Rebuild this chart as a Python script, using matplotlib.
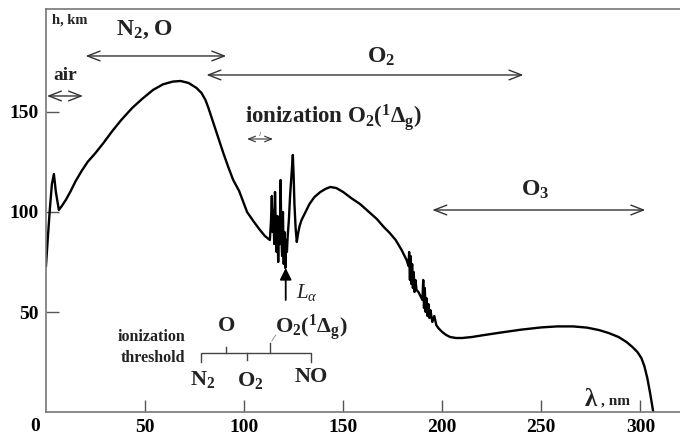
import matplotlib
matplotlib.use('Agg')
import matplotlib.pyplot as plt

plt.rcParams['font.family'] = ['Liberation Serif', 'DejaVu Serif']
plt.rcParams['mathtext.fontset'] = 'custom'
plt.rcParams['mathtext.rm'] = 'Liberation Serif:bold'
plt.rcParams['mathtext.it'] = 'Liberation Serif:italic'
plt.rcParams['mathtext.bf'] = 'Liberation Serif:bold'

# длина волны, нм / высота, км
lam = [0, 1, 2, 3, 4, 5, 6.5, 8, 10, 12.5, 15, 18, 21, 25, 29, 33.5, 38, 43.5, 48.5,
       54, 59, 64, 68, 72, 76, 78.5, 80.5, 82, 84, 86, 88, 89.5, 92, 94.5, 97.5,
       101.5, 105, 108, 110.5, 113,
       113.6, 114, 114.4, 114.8, 115.2, 115.6, 116, 116.4, 116.8, 117.2, 117.6, 118,
       118.4, 118.8, 119.2, 119.6, 120, 120.4, 120.8, 121.2, 121.6, 122, 122.6, 123.2,
       124, 124.6, 125, 125.4, 126, 126.6, 127.2, 128, 129, 131, 133, 135.5, 138.5,
       141, 143.5, 146.5, 150, 154, 158.5, 163, 167, 170.5, 173.5, 176.5, 179.5, 182,
       183, 183.3, 183.7, 184, 184.4, 184.8, 185.2, 185.6, 186, 186.5, 187, 188, 189,
       190, 190.4, 190.8, 191.2, 191.6, 192, 192.5, 193, 193.5, 194, 195, 196, 197, 198,
       200, 202, 204, 207, 210, 215, 220, 230, 240, 250, 258, 266, 273, 279, 284, 289,
       293, 296, 298.5, 300.5, 302, 303.5, 305, 306.5]
h = [73, 88, 102, 114, 119, 110, 101, 103, 106, 110.5, 115.5, 120.5, 125, 129.5, 134.5,
     140.5, 146, 152, 156.5, 161, 163.8, 165.2, 165.5, 164.5, 162, 159.5, 156, 152,
     146, 140, 134, 129.5, 122.5, 116, 110.5,
     100, 95, 91, 88, 86,
     96, 108, 90, 101, 84, 110, 92, 80, 98, 75, 95, 84, 116, 88, 78, 100, 74, 90, 72,
     86, 80, 88, 96, 108, 120, 128.5, 118, 104, 92, 85, 89, 93, 96, 100, 104, 107.5,
     110, 111.5, 112.5, 112, 110, 107, 104, 100, 96.5, 92.5, 89.5, 86, 81, 76,
     73, 80, 66, 78, 64, 74, 62, 70, 60, 66, 61, 60, 58,
     56, 66, 52, 62, 50, 57, 48, 54, 47, 51, 45, 48, 43.5, 42,
     40, 38.5, 37.5, 37, 37, 37.5, 38.3, 39.8, 41.2, 42.3, 42.8, 42.8, 42.2, 41, 39.5,
     37.5, 35, 32.5, 30, 27, 23, 17, 9, 0]

fig = plt.figure(figsize=(6.8, 4.4), dpi=100)
ax = fig.add_axes([0.0676, 0.0636, 0.9324, 0.916])

ax.plot(lam, h, color='black', linewidth=1.7, solid_joinstyle='round')

ax.set_xlim(0, 320)
ax.set_ylim(0, 201.5)
ax.set_xticks([50, 100, 150, 200, 250, 300])
ax.set_yticks([50, 100, 150])
ax.tick_params(direction='in', length=9, width=1, color='#555555',
               labelsize=14, pad=5)
for lbl in ax.get_xticklabels() + ax.get_yticklabels():
    lbl.set_fontweight('bold')
for s in ['left', 'bottom', 'top']:
    ax.spines[s].set_color('#777777')
    ax.spines[s].set_linewidth(1.2)
ax.spines['right'].set_visible(False)
ax.text(-3, -3, '0', ha='right', va='top', fontsize=14, fontweight='bold',
        clip_on=False)

bold = dict(fontweight='bold', color='#222222')
arr = dict(arrowstyle='<->,head_length=0.9,head_width=0.35', color='#333333', lw=1,
           shrinkA=0, shrinkB=0)

# подписи
ax.text(3, 196, 'h, km', fontsize=10.5, ha='left', va='center', **bold)
ax.text(50, 191, r'N$_2$, O', fontsize=17, ha='center', va='center', **bold)
ax.annotate('', xy=(20, 178), xytext=(91, 178), arrowprops=arr)
ax.text(9.5, 168, 'air', fontsize=14, ha='center', va='center', **bold)
ax.annotate('', xy=(0.5, 158), xytext=(18.7, 158), arrowprops=arr)
ax.text(169, 177.5, r'O$_2$', fontsize=17, ha='center', va='center', **bold)
ax.annotate('', xy=(81, 168.5), xytext=(241, 168.5), arrowprops=arr)
ax.text(145, 147, r'ionization O$_2$($^1\Delta_{\rm g}$)', fontsize=16.5,
        ha='center', va='center', **bold)
small = dict(arrowstyle='<->,head_length=0.5,head_width=0.2', color='#333333', lw=0.8,
             shrinkA=0, shrinkB=0)
ax.annotate('', xy=(101.5, 136.5), xytext=(114.6, 136.5), arrowprops=small)
ax.text(108, 137.3, 'l', fontsize=5, ha='center', va='bottom', style='italic',
        color='#555555')
ax.text(247, 111, r'O$_3$', fontsize=17, ha='center', va='center', **bold)
ax.annotate('', xy=(195, 101), xytext=(302.5, 101), arrowprops=arr)

# L alpha
ax.annotate('', xy=(121, 72), xytext=(121, 56),
            arrowprops=dict(arrowstyle='-|>,head_length=0.7,head_width=0.35',
                            color='black', lw=1.3, shrinkA=0, shrinkB=0))
ax.text(126, 60, r'$L_{\alpha}$', fontsize=15, ha='left', va='center', color='#222222')

ax.text(279, 6.5, r'$\mathbf{\lambda}$', fontsize=18, ha='right', va='center', **bold)
ax.text(280, 5.5, ', nm', fontsize=11, ha='left', va='center', **bold)

# пороги ионизации
br = dict(color='#444444', lw=1)
ax.plot([78, 78, 134, 134], [25, 29.5, 29.5, 25], **br)
ax.plot([91, 91], [29.5, 32.5], **br)
ax.plot([101.5, 101.5], [29.5, 26], **br)
ax.plot([113, 113], [29.5, 34.5], **br)
ax.plot([114, 116], [35.5, 38.5], color='#888888', lw=0.6)
ax.text(70.5, 37.5, 'ionization', fontsize=11.5, ha='right', va='center', **bold)
ax.text(70.5, 27, 'threshold', fontsize=11.5, ha='right', va='center', **bold)
ax.text(91, 43, 'O', fontsize=16, ha='center', va='center', **bold)
ax.text(115.5, 42, r'O$_2$($^1\Delta_{\rm g}$)', fontsize=16, ha='left',
        va='center', **bold)
ax.text(79, 16.5, r'N$_2$', fontsize=16, ha='center', va='center', **bold)
ax.text(103, 16, r'O$_2$', fontsize=16, ha='center', va='center', **bold)
ax.text(134, 17.5, 'NO', fontsize=16, ha='center', va='center', **bold)

fig.savefig('out.png', dpi=100)
